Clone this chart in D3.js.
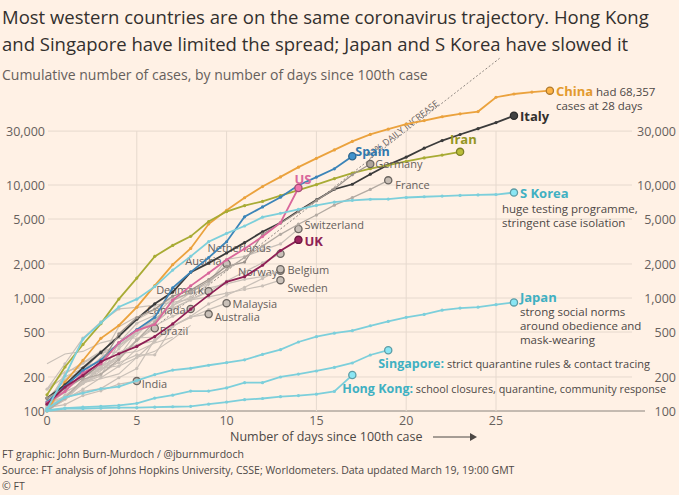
<!DOCTYPE html>
<html><head><meta charset="utf-8">
<script src="https://cdnjs.cloudflare.com/ajax/libs/d3/7.8.5/d3.min.js"></script>
<style>
body{margin:0;background:#fff1e5;font-family:"Open Sans",sans-serif}
</style></head><body>
<svg id="chart" width="679" height="495"></svg>
<script>
// ---- data ----
var yTicks = [100, 200, 500, 1000, 2000, 5000, 10000, 30000]
var xTicks = [0, 5, 10, 15, 20, 25]

var grayNames = ["Switzerland","Netherlands","Austria","Norway","Belgium","Sweden","Denmark","Canada","Malaysia","Australia","Brazil","India","Portugal","Qatar","Israel","Greece","Czechia","Finland","Ireland","Chile","Indonesia","Poland","Thailand"]
var grayValues = [
  [114,214,268,337,374,491,652,858,1125,1359,2200,2330,2650,3010,4075],
  [128,188,265,321,382,503,614,804,959,1135,1413,1705,2051,2460],
  [104,131,182,246,302,504,655,860,1018,1332,2013],
  [113,147,176,205,400,598,702,996,1090,1221,1333,1463,1550,1746],
  [109,169,200,239,267,314,314,559,689,886,1058,1243,1486,1795],
  [101,161,203,248,355,500,599,814,961,1022,1103,1190,1279,1439],
  [156,262,442,615,801,827,864,914,977,1150],
  [103,138,176,249,304,424,569,690,800],
  [117,129,149,158,197,238,428,566,673,790,900],
  [112,127,156,197,249,298,414,568,681,720],
  [121,151,200,234,291,428,540],
  [107,114,137,151,173,184],
  [112,169,245,331,448,642,785,1020],
  [262,320,337,401,439,442,452],
  [100,126,178,193,213,298,337,433,573],
  [117,190,228,331,331,387,418],
  [116,150,214,298,383,464,694],
  [155,225,244,277,321,336,400,450],
  [129,169,223,292,557,683],
  [155,201,238,342],
  [117,134,172,227,309],
  [103,125,177,238,251,355],
  [114,147,177,212,272]
]
var grayLabels = {
  Switzerland:[6,-4,"start"], Netherlands:[-73,-6,"start"], Austria:[-5,-3,"end"], Norway:[-3,1,"end"],
  Belgium:[7,1,"start"], Sweden:[7,8,"start"], Denmark:[-5,-1,"end"], Canada:[-5,1,"end"],
  Malaysia:[6,1,"start"], Australia:[6,3,"start"], Brazil:[5,3,"start"], India:[5,3,"start"]
}

var colorNames = ["China","Italy","Iran","Spain","Germany","France","US","UK","S Korea","Japan","Singapore","Hong Kong"]
var colorValues = [
  [100,180,280,440,571,830,1287,1975,2744,4515,5974,7711,9692,11791,14380,17205,20440,24324,28018,31161,34546,37198,40171,42638,44653,59804,63851,66492,68357],
  [130,170,240,330,460,650,888,1128,1694,2036,2502,3089,3858,4636,5883,7375,9172,10149,12462,15113,17660,21157,24747,27980,31506,35713,41035],
  [139,245,388,593,978,1501,2336,2922,3513,4747,5823,6566,7161,8042,9000,10075,11364,12729,13938,14991,16169,17361,18407,19644],
  [120,165,228,282,401,525,674,1231,1695,2277,3146,5232,6391,7798,9942,11748,13910,17963],
  [130,159,196,262,482,670,799,1040,1176,1457,1908,2078,3675,4585,5795,7272,9257,12327,15320],
  [100,130,191,212,285,423,613,949,1126,1412,1784,2281,2876,3661,4499,5423,6633,7730,9134,10995],
  [118,149,217,262,402,518,583,959,1281,1663,2179,2726,3499,4632,9400],
  [115,163,206,273,321,373,456,590,797,1061,1391,1543,1950,2626,3269],
  [104,204,433,602,833,977,1261,1766,2337,3150,3736,4335,5186,5621,6088,6593,7041,7314,7478,7513,7755,7869,7979,8086,8162,8236,8565],
  [105,132,144,157,164,186,210,230,239,254,268,284,317,349,408,455,488,514,568,620,675,716,780,814,829,873,914],
  [102,106,108,110,112,117,130,138,150,150,160,178,178,200,212,226,243,266,313,345],
  [100,105,105,106,107,107,108,109,110,115,120,126,129,134,137,141,149,208]
]
var colorHex = {China:"#eba23d",Italy:"#3b3b3b",Iran:"#a8ab34",Spain:"#3b84b8",Germany:"#9c938c",France:"#b3aaa2",
  US:"#d9679b",UK:"#8e1f55","S Korea":"#7ccfdb",Japan:"#7ccfdb",Singapore:"#7ccfdb","Hong Kong":"#7ccfdb"}

// ---- layout ----
var svg = d3.select("#chart")
var x = d3.scaleLinear().domain([0, 25]).range([47, 496])
var y = d3.scaleLog().domain([100, 100000]).range([411, 72])

svg.append("rect").attr("width", 679).attr("height", 495).attr("fill", "#fff1e5")

// titles
var title = ["Most western countries are on the same coronavirus trajectory. Hong Kong",
             "and Singapore have limited the spread; Japan and S Korea have slowed it"]
title.forEach(function(t, i){
  svg.append("text").attr("x", 2).attr("y", 24 + i*27).attr("font-size", 18.5).attr("fill", "#33302e").text(t)
})
svg.append("text").attr("x", 2).attr("y", 80).attr("font-size", 14).attr("fill", "#66605c")
  .text("Cumulative number of cases, by number of days since 100th case")

// grid
var grid = svg.append("g")
yTicks.forEach(function(v){
  grid.append("line").attr("x1", 48).attr("x2", v == 100 ? 645 : 632)
    .attr("y1", y(v)).attr("y2", y(v))
    .attr("stroke", v == 100 ? "#8a837d" : "#e6d9ce").attr("stroke-width", 1)
  grid.append("text").attr("x", 45).attr("y", y(v) + 5).attr("text-anchor", "end")
    .attr("font-size", 12.5).attr("fill", "#66605c").text(d3.format(",")(v))
  grid.append("text").attr("x", 676).attr("y", y(v) + 5).attr("text-anchor", "end")
    .attr("font-size", 12.5).attr("fill", "#66605c").text(d3.format(",")(v))
})
xTicks.forEach(function(v){
  if (v > 0) grid.append("line").attr("x1", x(v)).attr("x2", x(v)).attr("y1", y(30000)).attr("y2", y(100))
    .attr("stroke", "#e6d9ce")
  grid.append("text").attr("x", x(v)).attr("y", 425).attr("text-anchor", "middle")
    .attr("font-size", 12.5).attr("fill", "#66605c").text(v)
})
svg.append("text").attr("x", 230).attr("y", 441).attr("font-size", 12.5).attr("fill", "#4d4845")
  .text("Number of days since 100th case")
svg.append("line").attr("x1", 433).attr("x2", 470).attr("y1", 437).attr("y2", 437).attr("stroke", "#4d4845")
svg.append("path").attr("d", "M470,433 L477,437 L470,441 Z").attr("fill", "#4d4845")

// 33% line
var rate = d3.range(0, 25.3, 0.1).map(d=>[d, 100*Math.pow(1.33, d)])
svg.append("path").attr("d", d3.line().x(d=>x(d[0])).y(d=>y(d[1]))(rate))
  .attr("fill", "none").attr("stroke", "#8a837d").attr("stroke-dasharray", "2,2").attr("stroke-width", 1)
var ang = Math.atan2(y(100*Math.pow(1.33,22)) - y(100*Math.pow(1.33,18)), x(22) - x(18)) * 180 / Math.PI
svg.append("text").attr("transform", "translate(" + (x(17.8)+3) + "," + (y(100*Math.pow(1.33,17.8))-3) + ") rotate(" + ang + ")")
  .attr("font-size", 9).attr("fill", "#66605c").text("33% DAILY INCREASE")

var line = d3.line().x((d,i)=>x(i)).y(d=>y(d))

function drawSeries(vals, col, width, endFill, endStroke){
  var g = svg.append("g")
  g.append("path").attr("d", line(vals)).attr("fill", "none").attr("stroke", col).attr("stroke-width", width)
  g.selectAll("circle").data(vals.slice(0, -1)).enter().append("circle")
    .attr("cx", (d,i)=>x(i)).attr("cy", d=>y(d)).attr("r", 1.6).attr("fill", col)
  var n = vals.length - 1
  g.append("circle").attr("cx", x(n)).attr("cy", y(vals[n])).attr("r", 3.6)
    .attr("fill", endFill).attr("stroke", endStroke).attr("stroke-width", 1.3)
  return [x(n), y(vals[n])]
}

// gray countries
grayValues.forEach(function(vals, k){
  var name = grayNames[k]
  var lab = grayLabels[name]
  var col = "#c9c0b8"
  var p
  if (lab) p = drawSeries(vals, col, 1.2, "#c9c0b8", "#6b6560")
  else {
    svg.append("path").attr("d", line(vals)).attr("fill", "none").attr("stroke", col).attr("stroke-width", 1.1)
  }
  if (lab) svg.append("text").attr("x", p[0] + lab[0]).attr("y", p[1] + lab[1] + 4)
    .attr("text-anchor", lab[2]).attr("font-size", 11).attr("fill", "#66605c").text(name)
})

// highlighted countries
var pos = {}
colorNames.forEach(function(name, k){
  var c = colorHex[name]
  var stroke = (name == "Germany" || name == "France") ? "#6b6560" : d3.color(c).darker(0.8)
  pos[name] = drawSeries(colorValues[k], c, name == "Germany" || name == "France" ? 1.3 : 1.8,
    d3.color(c).brighter(0.3), stroke)
})

function label(name, dx, dy, txt, size, col, weight){
  svg.append("text").attr("x", pos[name][0] + dx).attr("y", pos[name][1] + dy)
    .attr("font-size", size).attr("fill", col).attr("font-weight", weight || "normal").text(txt)
}
var t = svg.append("text").attr("x", pos.China[0] + 6).attr("y", pos.China[1] + 5)
t.append("tspan").attr("font-size", 13).attr("font-weight", "bold").attr("fill", "#e39a2e").text("China")
t.append("tspan").attr("font-size", 11.5).attr("fill", "#4d4845").text(" had 68,357")
label("China", 6, 19, "cases at 28 days", 11.5, "#4d4845")
label("Italy", 6, 5, "Italy", 13, "#33302e", "bold")
label("Iran", -10, -8, "Iran", 13, "#949623", "bold")
label("Spain", 3, 0, "Spain", 12.5, "#3178ad", "bold")
label("Germany", 5, 4, "Germany", 11, "#66605c")
label("France", 7, 9, "France", 11, "#66605c")
label("US", -4, -4, "US", 13, "#d9679b", "bold")
label("UK", 6, 6, "UK", 13, "#8e1f55", "bold")
label("S Korea", 6, 5, "S Korea", 13, "#3fb0c2", "bold")
label("S Korea", -12, 20, "huge testing programme,", 11.5, "#4d4845")
label("S Korea", -12, 34, "stringent case isolation", 11.5, "#4d4845")
label("Japan", 6, 0, "Japan", 13, "#3fb0c2", "bold")
label("Japan", 6, 14, "strong social norms", 11.5, "#4d4845")
label("Japan", 6, 28, "around obedience and", 11.5, "#4d4845")
label("Japan", 6, 42, "mask-wearing", 11.5, "#4d4845")
var s = svg.append("text").attr("x", pos.Singapore[0] - 10).attr("y", pos.Singapore[1] + 18)
s.append("tspan").attr("font-size", 12.5).attr("font-weight", "bold").attr("fill", "#3fb0c2").text("Singapore:")
s.append("tspan").attr("font-size", 11).attr("fill", "#4d4845").text(" strict quarantine rules & contact tracing")
var h = svg.append("text").attr("x", pos["Hong Kong"][0] - 10).attr("y", pos["Hong Kong"][1] + 18)
h.append("tspan").attr("font-size", 12.5).attr("font-weight", "bold").attr("fill", "#3fb0c2").text("Hong Kong:")
h.append("tspan").attr("font-size", 10.8).attr("fill", "#4d4845").text(" school closures, quarantine, community response")

// footer
var foot = ["FT graphic: John Burn-Murdoch / @jburnmurdoch",
  "Source: FT analysis of Johns Hopkins University, CSSE; Worldometers. Data updated March 19, 19:00 GMT",
  "\u00a9 FT"]
foot.forEach(function(f, i){
  svg.append("text").attr("x", 2).attr("y", 458 + i*16).attr("font-size", 10.5).attr("fill", "#4d4845").text(f)
})
</script>
</body></html>
